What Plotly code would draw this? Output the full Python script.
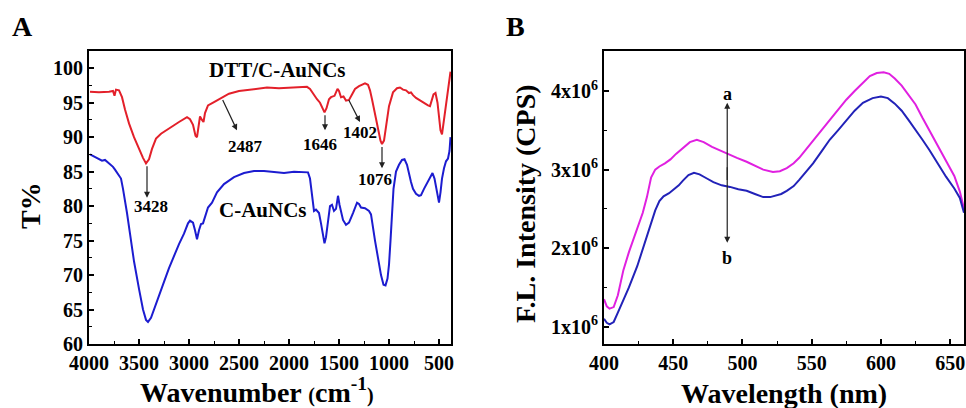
import plotly.graph_objects as go

# ---------------- Panel A: FTIR ----------------
wn_dtt = [3990, 3900, 3800, 3760, 3745, 3730, 3700, 3670, 3640, 3600, 3550, 3500, 3460, 3430, 3400,
          3370, 3330, 3280, 3200, 3100, 3020, 2990, 2960, 2935, 2920, 2905, 2890, 2870, 2855, 2840,
          2810, 2750, 2690, 2600, 2500, 2400, 2300, 2220, 2100, 2000, 1900, 1820, 1790, 1760, 1720,
          1690, 1660, 1645, 1625, 1600, 1580, 1545, 1515, 1500, 1480, 1455, 1430, 1400, 1370, 1340,
          1300, 1260, 1240, 1210, 1190, 1170, 1140, 1110, 1085, 1070, 1050, 1030, 1000, 960, 920,
          890, 860, 830, 800, 780, 760, 730, 700, 670, 640, 610, 590, 570, 555, 535, 515, 500, 485,
          470, 455, 440, 420, 400, 390, 385]
t_dtt = [96.6, 96.5, 96.6, 96.7, 96.0, 96.9, 96.8, 95.8, 94.0, 92.0, 90.0, 88.3, 87.0, 86.2, 86.8,
         88.3, 89.8, 90.5, 91.3, 92.2, 92.9, 92.6, 91.8, 90.2, 90.0, 91.5, 93.0, 92.5, 92.2, 93.5,
         94.6, 95.1, 95.6, 96.3, 96.7, 96.9, 97.1, 97.2, 97.1, 97.2, 97.3, 97.3, 97.0, 96.3, 95.5,
         95.0, 94.0, 93.6, 94.2, 95.5, 95.8, 96.0, 97.0, 96.7, 95.8, 95.9, 95.3, 95.4, 96.2, 97.0,
         97.4, 97.6, 97.8, 97.6, 96.8, 95.5, 93.5, 91.0, 89.5, 89.0, 89.5, 91.5, 94.5, 96.5, 97.1,
         97.2, 96.9, 96.8, 96.4, 96.5, 96.1, 95.7, 95.4, 95.2, 94.8, 94.6, 94.5, 95.5, 96.2, 96.4,
         95.0, 93.0, 91.0, 90.4, 92.0, 94.0, 96.0, 97.5, 99.0, 99.5]

wn_c = [3990, 3950, 3900, 3870, 3840, 3800, 3760, 3740, 3710, 3680, 3660, 3640, 3620, 3590, 3550,
        3500, 3460, 3430, 3410, 3380, 3340, 3290, 3250, 3200, 3150, 3100, 3050, 3010, 2990, 2960,
        2940, 2920, 2900, 2880, 2860, 2840, 2810, 2770, 2720, 2650, 2550, 2450, 2350, 2250, 2150,
        2050, 1950, 1850, 1810, 1790, 1770, 1750, 1730, 1700, 1680, 1660, 1645, 1630, 1610, 1590,
        1570, 1550, 1530, 1510, 1495, 1480, 1460, 1430, 1400, 1360, 1320, 1300, 1280, 1240, 1200,
        1180, 1160, 1140, 1110, 1080, 1055, 1035, 1015, 1000, 985, 970, 955, 930, 900, 870, 845,
        820, 800, 780, 760, 730, 700, 680, 650, 620, 590, 565, 545, 525, 510, 500, 485, 470, 450,
        430, 410, 395, 385]
t_c = [87.5, 87.2, 86.8, 86.6, 86.7, 86.2, 85.7, 85.3, 84.6, 84.0, 82.5, 81.0, 79.0, 76.0, 72.0,
       68.0, 65.0, 63.5, 63.2, 63.8, 65.5, 67.5, 69.0, 71.0, 72.8, 74.5, 76.0, 77.5, 77.9, 77.6,
       76.5, 75.2, 76.5, 77.4, 77.5, 78.5, 79.8, 80.5, 82.0, 83.2, 84.2, 84.8, 85.1, 85.1, 84.9,
       84.8, 85.0, 85.0, 84.9, 84.0, 81.5, 79.3, 79.5, 79.0, 77.5, 75.5, 74.6, 75.5, 78.0, 80.0,
       80.2, 79.3, 79.6, 81.5, 80.2, 79.2, 78.0, 77.3, 77.6, 79.0, 80.5, 80.3, 79.8, 79.7, 79.3,
       78.8, 76.5, 75.0, 72.5, 70.0, 68.6, 68.5, 69.5, 71.5, 75.0, 79.0, 82.5, 85.0, 86.0, 86.7, 86.8,
       86.0, 84.5, 83.5, 82.5, 81.8, 81.5, 81.6, 82.5, 83.3, 84.0, 84.8, 84.0, 82.5, 81.0, 80.5, 82.0, 84.0, 85.5,
       86.5, 86.9, 88.0, 90.0]

a_xticks = [4000, 3500, 3000, 2500, 2000, 1500, 1000, 500]
a_yticks = [60, 65, 70, 75, 80, 85, 90, 95, 100]

# ---------------- Panel B: Fluorescence ----------------
wl_a = [400, 402, 404, 407, 410, 414, 418, 424, 428, 431, 434, 437, 440, 444, 448, 452, 457, 462,
        467, 472, 478, 484, 489, 496, 503, 509, 515, 522, 527, 532, 537, 541, 546, 551, 557, 563,
        569, 575, 581, 587, 592, 597, 602, 606, 610, 615, 620, 625, 630, 635, 641, 647, 653, 657, 660]
fl_a = [1.35, 1.26, 1.23, 1.25, 1.40, 1.72, 1.95, 2.25, 2.45, 2.65, 2.90, 3.00, 3.04, 3.08, 3.13,
        3.20, 3.28, 3.35, 3.38, 3.35, 3.29, 3.24, 3.20, 3.15, 3.10, 3.05, 3.00, 2.97, 2.98, 3.02,
        3.08, 3.15, 3.26, 3.38, 3.50, 3.63, 3.76, 3.89, 4.00, 4.11, 4.19, 4.23, 4.24, 4.22, 4.16,
        4.07, 3.95, 3.83, 3.66, 3.50, 3.30, 3.12, 2.92, 2.72, 2.50]

wl_b = [400, 402, 404, 407, 410, 414, 418, 424, 428, 433, 437, 440, 443, 447, 450, 454, 457, 461,
        465, 469, 474, 479, 485, 491, 497, 503, 509, 515, 520, 524, 528, 532, 537, 541, 546, 551,
        557, 563, 569, 575, 581, 587, 594, 600, 605, 610, 615, 620, 625, 630, 635, 641, 647, 653, 657, 660]
fl_b = [1.10, 1.05, 1.03, 1.06, 1.18, 1.34, 1.50, 1.77, 1.98, 2.27, 2.48, 2.60, 2.66, 2.70, 2.74,
        2.80, 2.86, 2.93, 2.96, 2.94, 2.89, 2.84, 2.80, 2.78, 2.75, 2.73, 2.69, 2.65, 2.65, 2.67,
        2.69, 2.73, 2.79, 2.87, 2.97, 3.08, 3.23, 3.38, 3.50, 3.63, 3.75, 3.85, 3.91, 3.93, 3.91,
        3.84, 3.75, 3.63, 3.51, 3.38, 3.25, 3.08, 2.91, 2.76, 2.64, 2.45]

b_xticks = [400, 450, 500, 550, 600, 650]
b_yticks = [1, 2, 3, 4]
b_yticktext = ["1x10<sup>6</sup>", "2x10<sup>6</sup>", "3x10<sup>6</sup>", "4x10<sup>6</sup>"]

FONT = "Liberation Serif"
RED = "#e3202a"
BLUE = "#1c1cd0"
MAGENTA = "#e020e0"
BLUE2 = "#2222b8"

fig = go.Figure()
fig.add_trace(go.Scatter(x=wn_dtt, y=t_dtt, mode="lines", line=dict(color=RED, width=2),
                         xaxis="x", yaxis="y", showlegend=False))
fig.add_trace(go.Scatter(x=wn_c, y=t_c, mode="lines", line=dict(color=BLUE, width=2),
                         xaxis="x", yaxis="y", showlegend=False))
fig.add_trace(go.Scatter(x=wl_a, y=fl_a, mode="lines", line=dict(color=MAGENTA, width=2),
                         xaxis="x2", yaxis="y2", showlegend=False))
fig.add_trace(go.Scatter(x=wl_b, y=fl_b, mode="lines", line=dict(color=BLUE2, width=2),
                         xaxis="x2", yaxis="y2", showlegend=False))

tickfont = dict(family=FONT, size=20, color="black", weight="bold")
common = dict(showline=True, linewidth=2, linecolor="black", mirror=True, ticks="inside",
              ticklen=5, tickwidth=1.5, tickcolor="black", showgrid=False, zeroline=False,
              tickfont=tickfont, automargin=False)
minor = dict(ticks="inside", ticklen=3, tickwidth=1.2, tickcolor="black", showgrid=False)

ydom = [1 - 344 / 408, 1 - 51 / 408]
fig.update_layout(
    width=966, height=408, margin=dict(l=0, r=0, t=0, b=0, autoexpand=False),
    paper_bgcolor="white", plot_bgcolor="white",
    xaxis=dict(domain=[89 / 966, 451 / 966], range=[4000, 380], tickvals=a_xticks,
               minor=dict(dtick=250, tick0=0, **minor), anchor="y", **common),
    yaxis=dict(domain=ydom, range=[60, 102.5], tickvals=a_yticks,
               minor=dict(dtick=2.5, tick0=0, **minor), anchor="x", **common),
    xaxis2=dict(domain=[604 / 966, 964 / 966], range=[400, 660], tickvals=b_xticks,
                minor=dict(dtick=25, tick0=0, **minor), anchor="y2", **common),
    yaxis2=dict(domain=ydom, range=[0.78, 4.51], tickvals=b_yticks, ticktext=b_yticktext,
                minor=dict(dtick=0.5, tick0=0, **minor), anchor="x2", **common),
)

ann = []
def txt(x, y, s, size, xref="paper", yref="paper", angle=0, xanchor="center", yanchor="middle"):
    ann.append(dict(x=x, y=y, xref=xref, yref=yref, text=s, showarrow=False, textangle=angle,
                    xanchor=xanchor, yanchor=yanchor,
                    font=dict(family=FONT, size=size, color="black", weight="bold")))

def arrow(x0, y0, x1, y1, xr="x", yr="y"):
    ann.append(dict(x=x1, y=y1, ax=x0, ay=y0, xref=xr, yref=yr, axref=xr, ayref=yr, text="",
                    showarrow=True, arrowhead=2, arrowsize=1.0, arrowwidth=1.2, arrowcolor="#222"))

# panel letters
txt(22 / 966, 1 - 27 / 408, "A", 28)
txt(515 / 966, 1 - 27 / 408, "B", 28)
# axis titles
txt(257 / 966, 1 - 390 / 408, "Wavenumber <span style='font-size:20px'>(</span>cm<sup>-1</sup><span style='font-size:20px'>)</span>", 28)
txt(30 / 966, 1 - 206 / 408, "T%", 28, angle=-90)
txt(784 / 966, 1 - 393 / 408, "Wavelength (nm)", 28)
txt(525 / 966, 1 - 204 / 408, "F.L. Intensity (CPS)", 28, angle=-90)

# panel A labels
txt(2120, 99.7, "DTT/C-AuNCs", 21, "x", "y")
txt(2260, 79.4, "C-AuNCs", 21, "x", "y")
txt(3380, 80.0, "3428", 17, "x", "y")
txt(2440, 88.7, "2487", 17, "x", "y")
txt(1690, 89.0, "1646", 17, "x", "y")
txt(1290, 90.7, "1402", 17, "x", "y")
txt(1140, 83.8, "1076", 17, "x", "y")
arrow(3420, 86.0, 3420, 81.2)
arrow(2670, 95.6, 2520, 91.0)
arrow(1640, 93.4, 1640, 91.0)
arrow(1410, 95.6, 1290, 92.2)
arrow(1070, 88.8, 1070, 85.5)

# panel B arrows and labels
arrow(489, 2.85, 489, 3.85, "x2", "y2")
arrow(489, 3.05, 489, 2.07, "x2", "y2")
txt(489, 3.96, "a", 18, "x2", "y2")
txt(489, 1.87, "b", 18, "x2", "y2")

fig.update_layout(annotations=ann)
fig.write_html("out.html", config={"displayModeBar": False},
               post_script="document.body.style.margin='0px';")
